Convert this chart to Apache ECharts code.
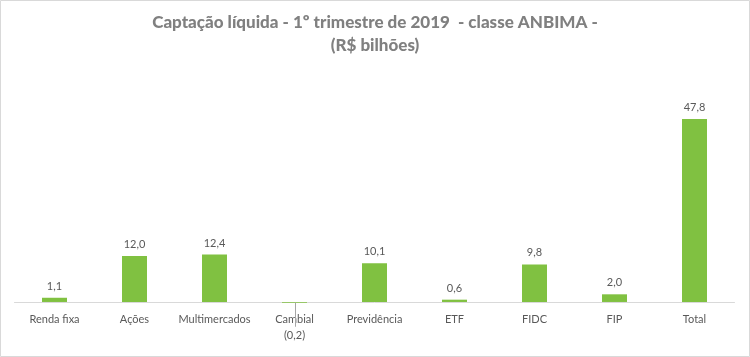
<!DOCTYPE html>
<html><head><meta charset="utf-8">
<script src="https://cdn.jsdelivr.net/npm/echarts@6/dist/echarts.min.js"></script>
<style>html,body{margin:0;padding:0;background:#fff}#c{width:750px;height:357px}</style>
</head><body><div id="c"></div>
<script>
const categories = ['Renda fixa','Ações','Multimercados','Cambial','Previdência','ETF','FIDC','FIP','Total'];
const values = [1.1, 12.0, 12.4, -0.2, 10.1, 0.6, 9.8, 2.0, 47.8];
const titleLines = ['Captação líquida - 1º trimestre de 2019  - classe ANBIMA -', '(R$ bilhões)'];

const fmt = v => v < 0 ? '(' + Math.abs(v).toFixed(1).replace('.', ',') + ')' : v.toFixed(1).replace('.', ',');
const FONT = 'Lato';
const negatives = values.map((v, i) => [i, v]).filter(d => d[1] < 0);
const chart = echarts.init(document.getElementById('c'));
chart.setOption({
  animation: false,
  title: {
    text: titleLines.join('\n'), left: 'center', top: 6,
    textStyle: {fontFamily: FONT, fontSize: 17, fontWeight: 900, color: '#808080', lineHeight: 23}
  },
  graphic: [{type: 'rect', shape: {x: 0.5, y: 0.5, width: 749, height: 356}, style: {fill: 'none', stroke: '#d9d9d9', lineWidth: 1}, silent: true}],
  grid: {left: 14.5, right: 15.5, top: 110.5, bottom: 51.2, containLabel: false},
  xAxis: {
    type: 'category', data: categories,
    axisLine: {onZero: true, lineStyle: {color: '#d9d9d9', width: 1}},
    axisTick: {show: false},
    axisLabel: {fontFamily: FONT, fontSize: 11, color: '#595959', margin: 8, interval: 0}
  },
  yAxis: {type: 'value', min: -1, max: 50, show: false, splitLine: {show: false}},
  series: [{
    type: 'bar', data: values, barWidth: 25, itemStyle: {color: '#80C141'},
    label: {
      show: true, position: 'top', distance: 6, fontFamily: FONT, fontSize: 11, color: '#595959',
      formatter: p => p.value < 0 ? '' : fmt(p.value)
    }
  }, {
    type: 'custom', data: negatives, clip: false, z: 5, silent: true,
    renderItem: (params, api) => {
      const p = api.coord([api.value(0), api.value(1)]);
      const x = Math.round(p[0]) + 0.5;
      return {type: 'group', children: [
        {type: 'line', shape: {x1: x, y1: p[1], x2: x, y2: p[1] + 24}, style: {stroke: '#a6a6a6', lineWidth: 1}},
        {type: 'text', style: {text: fmt(api.value(1)), x: p[0], y: p[1] + 33, align: 'center', verticalAlign: 'middle',
          font: '11px ' + FONT, fill: '#595959'}}
      ]};
    }
  }]
});
</script></body></html>
